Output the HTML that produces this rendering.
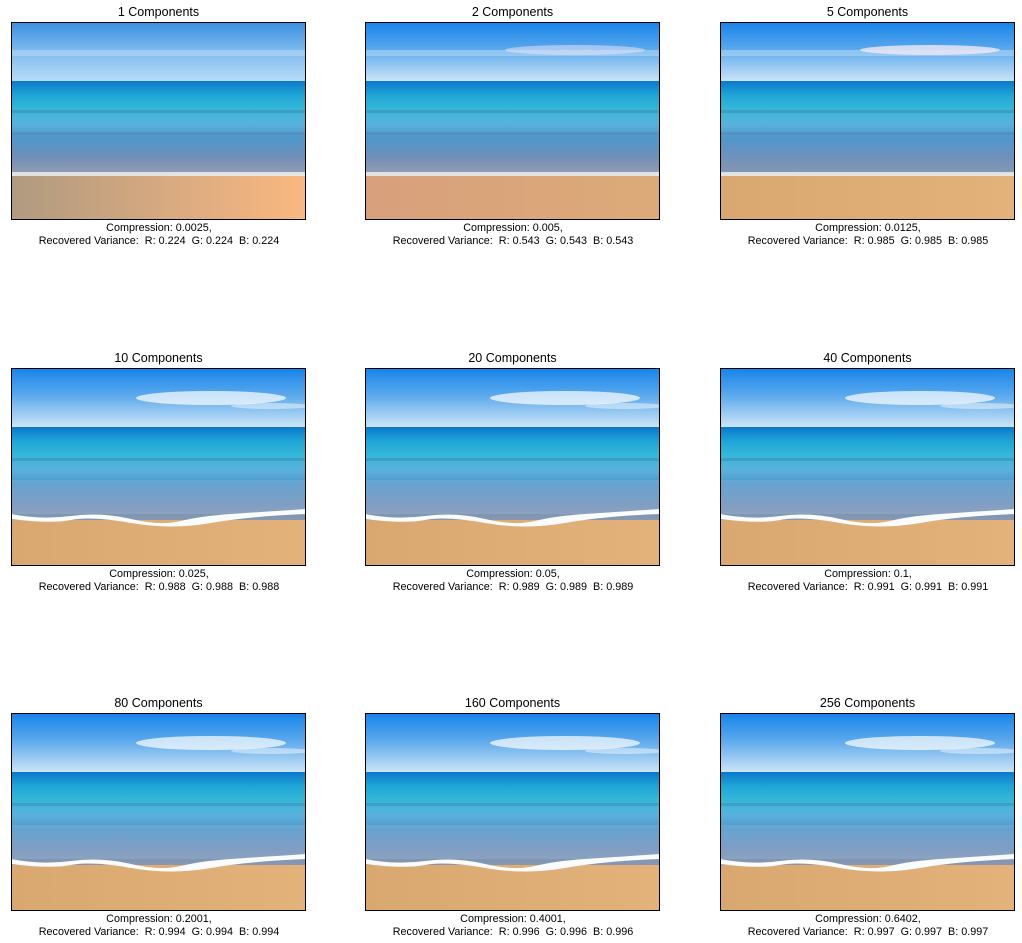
<!DOCTYPE html>
<html><head><meta charset="utf-8"><style>
body{margin:0;background:#fff;width:1022px;height:943px;overflow:hidden;font-family:"Liberation Sans","DejaVu Sans",sans-serif;position:relative}
.t{position:absolute;width:295px;text-align:center;font-size:12.5px;color:#000}
.c{position:absolute;width:355px;text-align:center;font-size:10.8px;line-height:12.5px;color:#000}
svg.p{position:absolute}
</style></head><body>
<div id="root"></div>
<script>
const components=[1,2,5,10,20,40,80,160,256];
const compression=["0.0025","0.005","0.0125","0.025","0.05","0.1","0.2001","0.4001","0.6402"];
const variance=["0.224","0.543","0.985","0.988","0.989","0.991","0.994","0.996","0.997"];
const colX=[11,365,720], rowY=[22,368,713], W=295, H=198;
const root=document.getElementById('root');
const NS='http://www.w3.org/2000/svg';
function svgPanel(i){
  const blur = i<3 ? i : 3;
  const id='g'+i;
  let s=`<defs>
  <linearGradient id="sky${id}" x1="0" y1="0" x2="0" y2="1">
   <stop offset="0" stop-color="${blur==0?'#3a8fe0':'#1684ea'}"/><stop offset="0.45" stop-color="${blur==0?'#7ab8ee':'#5aa8ec'}"/><stop offset="1" stop-color="${blur==0?'#b8dcf8':'#cfe6f7'}"/></linearGradient>
  <linearGradient id="sea${id}" x1="0" y1="0" x2="0" y2="1">
   <stop offset="0" stop-color="#0a78cc"/><stop offset="0.15" stop-color="#1fa6d6"/><stop offset="0.3" stop-color="#35b8d8"/>
   <stop offset="0.45" stop-color="#5ab2dc"/><stop offset="0.6" stop-color="#4f97cc"/><stop offset="0.8" stop-color="${blur<2?'#6f8fb8':'#6f92bc'}"/><stop offset="1" stop-color="${blur<2?'#9a9eb0':'#8a98b0'}"/></linearGradient>
  <linearGradient id="sand${id}" x1="0" y1="0" x2="1" y2="0">
   <stop offset="0" stop-color="${blur==0?'#b09a80':(blur==1?'#d8a07c':'#d9a870')}"/><stop offset="1" stop-color="${blur==0?'#fab880':(blur==1?'#dcaa78':'#e2b27a')}"/></linearGradient>
  </defs>
  <rect width="${W}" height="60" fill="url(#sky${id})"/>
  <rect y="59" width="${W}" height="95" fill="url(#sea${id})"/>
  <rect y="152" width="${W}" height="46" fill="url(#sand${id})"/>`;
  if(blur<3){
    s+=`<rect y="150" width="${W}" height="4" fill="#e8eef2" opacity="0.85"/>
    <rect y="28" width="${W}" height="6" fill="#bcdcf6" opacity="0.5"/>
    <rect y="88" width="${W}" height="3" fill="#4a7fb0" opacity="0.5"/>
    <rect y="110" width="${W}" height="3" fill="#5a80b0" opacity="0.5"/>`;
    if(blur>=1) s+=`<ellipse cx="210" cy="28" rx="70" ry="5" fill="#f0e8f8" opacity="${blur==2?0.8:0.5}"/>`;
  } else {
    s+=`<ellipse cx="200" cy="30" rx="75" ry="7" fill="#ffffff" opacity="0.7"/>
    <ellipse cx="260" cy="38" rx="40" ry="3" fill="#ffffff" opacity="0.45"/>
    <rect y="90" width="${W}" height="3" fill="#3e74a8" opacity="0.35"/>
    <rect y="112" width="${W}" height="34" fill="#c0d4e4" opacity="0.2"/>
    <path d="M0 146 Q30 152 60 148 T120 151 T170 153 T220 146 T295 141 L295 146 Q240 148 200 155 T120 155 T60 152 T0 151 Z" fill="#fafcfc"/>`;
  }
  s+=`<rect x="0.5" y="0.5" width="${W-1}" height="${H-1}" fill="none" stroke="#000" stroke-width="1"/>`;
  return s;
}
components.forEach((k,i)=>{
  const x=colX[i%3], y=rowY[Math.floor(i/3)];
  const t=document.createElement('div');
  t.className='t';
  
  
  t.style.left=x+'px'; t.style.top=(y-17)+'px';
  t.textContent=k+' Components';
  root.appendChild(t);
  const sv=document.createElementNS(NS,'svg');
  sv.setAttribute('class','p');
  
  
  sv.setAttribute('width',W); sv.setAttribute('height',H);
  sv.style.left=x+'px'; sv.style.top=y+'px';
  sv.innerHTML=svgPanel(i);
  root.appendChild(sv);
  const c=document.createElement('div');
  c.className='c';
  
  
  c.style.left=(x+W/2-177)+'px'; c.style.top=(y+H+2)+'px';
  c.innerHTML='Compression: '+compression[i]+',<br>Recovered Variance:&nbsp; R: '+variance[i]+'&nbsp; G: '+variance[i]+'&nbsp; B: '+variance[i];
  root.appendChild(c);
});
</script>
</body></html>
